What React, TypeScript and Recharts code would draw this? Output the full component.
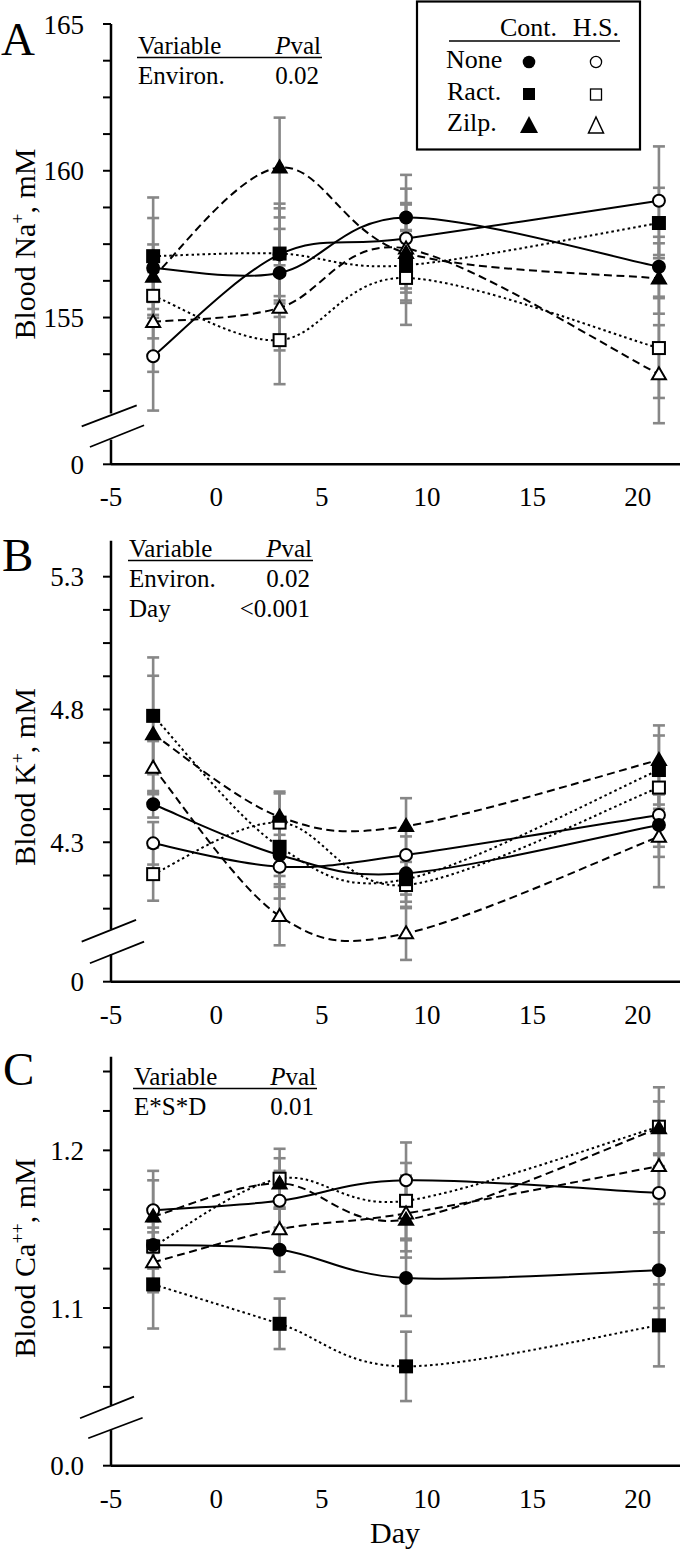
import React from 'react';
import { LineChart, Line, XAxis, YAxis, ErrorBar, ReferenceLine } from 'recharts';

const FONT = "Liberation Serif, Times New Roman, Tinos, DejaVu Serif, Noto Serif, serif";

const days = [-3, 3, 9, 21];
const dayTicks = [-5, 0, 5, 10, 15, 20];

// A: blood Na+ (mM)
const naNoneCont = [156.69, 156.52, 158.41, 156.73];
const naNoneHS = [153.68, 157.15, 157.69, 158.98];
const naRactCont = [157.09, 157.18, 156.78, 158.22];
const naRactHS = [155.74, 154.23, 156.35, 153.96];
const naZilpCont = [156.39, 160.11, 157.2, 156.33];
const naZilpHS = [154.85, 155.33, 157.35, 153.07];
const naNoneContErr = [1.7, 1.5, 1.45, 1.02];
const naNoneHSErr = [1.85, 1.57, 1.7, 1.85];
const naRactContErr = [2.0, 1.7, 1.2, 1.2];
const naRactHSErr = [1.45, 1.5, 1.6, 1.7];
const naZilpContErr = [1.1, 1.7, 1.7, 1.2];
const naZilpHSErr = [1.7, 1.45, 1.5, 1.67];

// B: blood K+ (mM)
const kNoneCont = [4.443, 4.252, 4.183, 4.365];
const kNoneHS = [4.296, 4.208, 4.252, 4.403];
const kRactCont = [4.776, 4.283, 4.161, 4.572];
const kRactHS = [4.18, 4.374, 4.139, 4.506];
const kZilpCont = [4.707, 4.396, 4.361, 4.61];
const kZilpHS = [4.581, 4.022, 3.957, 4.321];
const kNoneContErr = [0.05, 0.11, 0.08, 0.12];
const kNoneHSErr = [0.08, 0.12, 0.07, 0.12];
const kRactContErr = [0.22, 0.11, 0.085, 0.13];
const kRactHSErr = [0.1, 0.11, 0.087, 0.08];
const kZilpContErr = [0.22, 0.095, 0.105, 0.13];
const kZilpHSErr = [0.1, 0.11, 0.1, 0.19];

// C: blood Ca++ (mM)
const caNoneCont = [1.14, 1.137, 1.119, 1.124];
const caNoneHS = [1.162, 1.168, 1.181, 1.173];
const caRactCont = [1.115, 1.09, 1.063, 1.089];
const caRactHS = [1.139, 1.182, 1.168, 1.215];
const caZilpCont = [1.158, 1.179, 1.156, 1.214];
const caZilpHS = [1.129, 1.15, 1.16, 1.19];
const caNoneContErr = [0.015, 0.014, 0.024, 0.024];
const caNoneHSErr = [0.025, 0.019, 0.024, 0.025];
const caRactContErr = [0.028, 0.016, 0.022, 0.026];
const caRactHSErr = [0.012, 0.019, 0.024, 0.025];
const caZilpContErr = [0.023, 0.016, 0.024, 0.017];
const caZilpHSErr = [0.019, 0.014, 0.024, 0.024];

const naTicks = [150, 152.5, 153.75, 155, 156.25, 157.5, 158.75, 160, 161.25, 162.5, 163.75, 165];
const naLabels: [number, string][] = [[150, '0'], [155, '155'], [160, '160'], [165, '165']];
const kTicks = [3.775, 4.05, 4.175, 4.3, 4.425, 4.55, 4.675, 4.8, 4.925, 5.05, 5.175, 5.3];
const kLabels: [number, string][] = [[3.775, '0'], [4.3, '4.3'], [4.8, '4.8'], [5.3, '5.3']];
const caTicks = [1.0, 1.05, 1.075, 1.1, 1.125, 1.15, 1.175, 1.2, 1.225, 1.25];
const caLabels: [number, string][] = [[1.0, '0.0'], [1.1, '1.1'], [1.2, '1.2']];

// series order: open (H.S.) drawn first, filled (Cont.) on top
const SERIES = [
  { key: 'noneHS', shape: 'circle', filled: false, dash: undefined },
  { key: 'ractHS', shape: 'square', filled: false, dash: '2.5 3' },
  { key: 'zilpHS', shape: 'triangle', filled: false, dash: '8 4.5' },
  { key: 'noneCont', shape: 'circle', filled: true, dash: undefined },
  { key: 'ractCont', shape: 'square', filled: true, dash: '2.5 3' },
  { key: 'zilpCont', shape: 'triangle', filled: true, dash: '8 4.5' },
];

const buildRows = (vals: Record<string, number[]>, errs: Record<string, number[]>) =>
  days.map((day, i) => {
    const row: Record<string, number> = { day };
    Object.keys(vals).forEach((k) => {
      row[k] = vals[k][i];
      row[k + 'Err'] = errs[k][i];
    });
    return row;
  });

const naData = buildRows(
  { noneCont: naNoneCont, noneHS: naNoneHS, ractCont: naRactCont, ractHS: naRactHS, zilpCont: naZilpCont, zilpHS: naZilpHS },
  { noneCont: naNoneContErr, noneHS: naNoneHSErr, ractCont: naRactContErr, ractHS: naRactHSErr, zilpCont: naZilpContErr, zilpHS: naZilpHSErr },
);
const kData = buildRows(
  { noneCont: kNoneCont, noneHS: kNoneHS, ractCont: kRactCont, ractHS: kRactHS, zilpCont: kZilpCont, zilpHS: kZilpHS },
  { noneCont: kNoneContErr, noneHS: kNoneHSErr, ractCont: kRactContErr, ractHS: kRactHSErr, zilpCont: kZilpContErr, zilpHS: kZilpHSErr },
);
const caData = buildRows(
  { noneCont: caNoneCont, noneHS: caNoneHS, ractCont: caRactCont, ractHS: caRactHS, zilpCont: caZilpCont, zilpHS: caZilpHS },
  { noneCont: caNoneContErr, noneHS: caNoneHSErr, ractCont: caRactContErr, ractHS: caRactHSErr, zilpCont: caZilpContErr, zilpHS: caZilpHSErr },
);

// Excel-like smoothed line (Catmull-Rom through every point)
const smooth = (context: any) => {
  let pts: number[][] = [];
  return {
    areaStart() {},
    areaEnd() {},
    lineStart() {
      pts = [];
    },
    point(x: number, y: number) {
      pts.push([+x, +y]);
    },
    lineEnd() {
      const n = pts.length;
      if (!n) return;
      context.moveTo(pts[0][0], pts[0][1]);
      for (let i = 0; i < n - 1; i++) {
        const p0 = pts[i > 0 ? i - 1 : i];
        const p1 = pts[i];
        const p2 = pts[i + 1];
        const p3 = pts[i + 2 < n ? i + 2 : i + 1];
        context.bezierCurveTo(
          p1[0] + (p2[0] - p0[0]) / 6,
          p1[1] + (p2[1] - p0[1]) / 6,
          p2[0] - (p3[0] - p1[0]) / 6,
          p2[1] - (p3[1] - p1[1]) / 6,
          p2[0],
          p2[1],
        );
      }
    },
  };
};

const marker = (shape: string, filled: boolean) => (props: any) => {
  const { cx, cy, index } = props;
  if (cx == null || cy == null) return <g key={index} />;
  const fill = filled ? '#000' : '#fff';
  if (shape === 'circle') {
    return <circle key={index} cx={cx} cy={cy} r={6} fill={fill} stroke="#000" strokeWidth={2} />;
  }
  if (shape === 'square') {
    return <rect key={index} x={cx - 6} y={cy - 6} width={12} height={12} fill={fill} stroke="#000" strokeWidth={2} />;
  }
  return (
    <path
      key={index}
      d={`M${cx},${cy - 7}L${cx + 7},${cy + 5}L${cx - 7},${cy + 5}Z`}
      fill={fill}
      stroke="#000"
      strokeWidth={2}
      strokeLinejoin="miter"
    />
  );
};

type PanelProps = {
  data: Record<string, number>[];
  top: number;
  height: number;
  marginTop: number;
  xAxisHeight: number;
  domain: [number, number];
  ticks: number[];
  labels: [number, string][];
  gap: [number, number];
  slashes: number[][];
};

function Panel({ data, top, height, marginTop, xAxisHeight, domain, ticks, labels, gap, slashes }: PanelProps) {
  const fmt = (v: number) => {
    const hit = labels.find((l) => Math.abs(l[0] - v) < 1e-6);
    return hit ? hit[1] : '';
  };
  return (
    <div style={{ position: 'absolute', left: 0, top, width: 680, height, fontFamily: FONT }}>
      <LineChart width={680} height={height} data={data} margin={{ top: marginTop, right: 0, bottom: 0, left: 0 }}>
        <XAxis
          type="number"
          dataKey="day"
          domain={[-5, 22]}
          ticks={dayTicks}
          interval={0}
          allowDataOverflow
          height={xAxisHeight}
          tickLine={false}
          tickSize={0}
          tickMargin={23}
          axisLine={{ stroke: '#000', strokeWidth: 2.5 }}
          tick={{ fontSize: 27, fill: '#000', fontFamily: FONT }}
        />
        <YAxis
          type="number"
          domain={domain}
          ticks={ticks}
          interval={0}
          allowDataOverflow
          width={111}
          axisLine={false}
          tickSize={8}
          tickMargin={19}
          tickLine={{ stroke: '#000', strokeWidth: 2 }}
          tickFormatter={fmt}
          tick={{ fontSize: 27, fill: '#000', fontFamily: FONT }}
        />
        <ReferenceLine
          segment={[{ x: -5, y: domain[1] }, { x: -5, y: gap[0] }]}
          stroke="#000"
          strokeWidth={2.5}
          ifOverflow="visible"
        />
        <ReferenceLine
          segment={[{ x: -5, y: gap[1] }, { x: -5, y: domain[0] }]}
          stroke="#000"
          strokeWidth={2.5}
          ifOverflow="visible"
        />
        {slashes.map((s, i) => (
          <ReferenceLine
            key={'sl' + i}
            segment={[{ x: s[0], y: s[1] }, { x: s[2], y: s[3] }]}
            stroke="#000"
            strokeWidth={1.8}
            ifOverflow="visible"
          />
        ))}
        {SERIES.map((s) => (
          <Line
            key={s.key + 'eb'}
            dataKey={s.key}
            stroke="none"
            dot={false}
            activeDot={false}
            isAnimationActive={false}
            legendType="none"
          >
            <ErrorBar dataKey={s.key + 'Err'} direction="y" width={6} stroke="#878787" strokeWidth={2.6} />
          </Line>
        ))}
        {SERIES.map((s) => (
          <Line
            key={s.key}
            dataKey={s.key}
            type={smooth as any}
            stroke="#000"
            strokeWidth={2}
            strokeDasharray={s.dash}
            dot={marker(s.shape, s.filled)}
            activeDot={false}
            isAnimationActive={false}
          />
        ))}
      </LineChart>
    </div>
  );
}

function Table({ x, right, y, rows }: { x: number; right: number; y: number; rows: [string, string][] }) {
  return (
    <g fontFamily={FONT} fill="#000" fontSize={25}>
      <text x={x + 1} y={y}>Variable</text>
      <text x={right} y={y} textAnchor="end">
        <tspan fontStyle="italic">P</tspan>val
      </text>
      <line x1={x} x2={right + 1} y1={y + 3.5} y2={y + 3.5} stroke="#000" strokeWidth={1.5} />
      {rows.map((r, i) => (
        <g key={r[0]}>
          <text x={x + 1} y={y + 30 + i * 30}>{r[0]}</text>
          <text x={right - 2} y={y + 30 + i * 30} textAnchor="end">{r[1]}</text>
        </g>
      ))}
    </g>
  );
}

function Overlay() {
  const fx = 529;
  const ox = 596;
  return (
    <svg width={680} height={1553} style={{ position: 'absolute', left: 0, top: 0, pointerEvents: 'none', fontFamily: FONT }}>
      <g fontFamily={FONT} fill="#000" fontSize={47}>
        <text x={1} y={55}>A</text>
        <text x={2} y={571}>B</text>
        <text x={3} y={1085}>C</text>
      </g>

      <g fontFamily={FONT} fill="#000" fontSize={30}>
        <text transform="translate(35,244) rotate(-90)" textAnchor="middle">
          Blood Na<tspan fontSize={18} dy={-11}>+</tspan>
          <tspan dy={11}>, mM</tspan>
        </text>
        <text transform="translate(35,777) rotate(-90)" textAnchor="middle">
          Blood K<tspan fontSize={18} dy={-11}>+</tspan>
          <tspan dy={11}>, mM</tspan>
        </text>
        <text transform="translate(35,1258) rotate(-90)" textAnchor="middle">
          Blood Ca<tspan fontSize={18} dy={-11}>++</tspan>
          <tspan dy={11}>, mM</tspan>
        </text>
        <text x={395} y={1543} textAnchor="middle">Day</text>
      </g>

      <Table x={137} right={321} y={54} rows={[['Environ.', '0.02']]} />
      <Table x={128} right={312} y={557} rows={[['Environ.', '0.02'], ['Day', '<0.001']]} />
      <Table x={133} right={316} y={1085} rows={[['E*S*D', '0.01']]} />

      <rect x={417} y={1.5} width={223} height={148} fill="#fff" stroke="#000" strokeWidth={2.2} />
      <g fontFamily={FONT} fill="#000" fontSize={26}>
        <text x={557} y={36} textAnchor="end">Cont.</text>
        <text x={619} y={36} textAnchor="end">H.S.</text>
        <text x={446} y={68}>None</text>
        <text x={447} y={100}>Ract.</text>
        <text x={447} y={131}>Zilp.</text>
      </g>
      <line x1={449} x2={620} y1={41} y2={41} stroke="#000" strokeWidth={1.5} />
      <circle cx={fx} cy={62} r={6.3} fill="#000" />
      <circle cx={ox} cy={62} r={5.6} fill="#fff" stroke="#000" strokeWidth={1.3} />
      <rect x={fx - 6} y={88} width={12} height={12} fill="#000" />
      <rect x={ox - 5.5} y={89} width={11} height={11} fill="#fff" stroke="#000" strokeWidth={1.3} />
      <path d={`M${fx},${116}L${fx + 9},${133}L${fx - 9},${133}Z`} fill="#000" />
      <path d={`M${ox},${117}L${ox + 7.5},${133}L${ox - 7.5},${133}Z`} fill="#fff" stroke="#000" strokeWidth={1.5} />
    </svg>
  );
}

export default function App() {
  return (
    <div style={{ position: 'absolute', left: 0, top: 0, width: 680, height: 1553, background: '#fff', overflow: 'hidden' }}>
      <Panel
        data={naData}
        top={0}
        height={520}
        marginTop={24}
        xAxisHeight={55.7}
        domain={[150, 165]}
        ticks={naTicks}
        labels={naLabels}
        gap={[151.73, 150.84]}
        slashes={[
          [-6.39, 151.29, -3.78, 152.01],
          [-6.0, 150.59, -3.43, 151.33],
        ]}
      />
      <Panel
        data={kData}
        top={520}
        height={520}
        marginTop={20.7}
        xAxisHeight={58.3}
        domain={[3.775, 5.4355]}
        ticks={kTicks}
        labels={kLabels}
        gap={[3.9724, 3.8783]}
        slashes={[
          [-6.39, 3.926, -3.81, 4.0075],
          [-6.0, 3.8444, -3.43, 3.926],
        ]}
      />
      <Panel
        data={caData}
        top={1040}
        height={513}
        marginTop={16.7}
        xAxisHeight={87.3}
        domain={[1.0, 1.2594]}
        ticks={caTicks}
        labels={caLabels}
        gap={[1.0385, 1.0226]}
        slashes={[
          [-6.47, 1.0301, -3.91, 1.0438],
          [-6.08, 1.0174, -3.5, 1.0304],
        ]}
      />
      <Overlay />
    </div>
  );
}
